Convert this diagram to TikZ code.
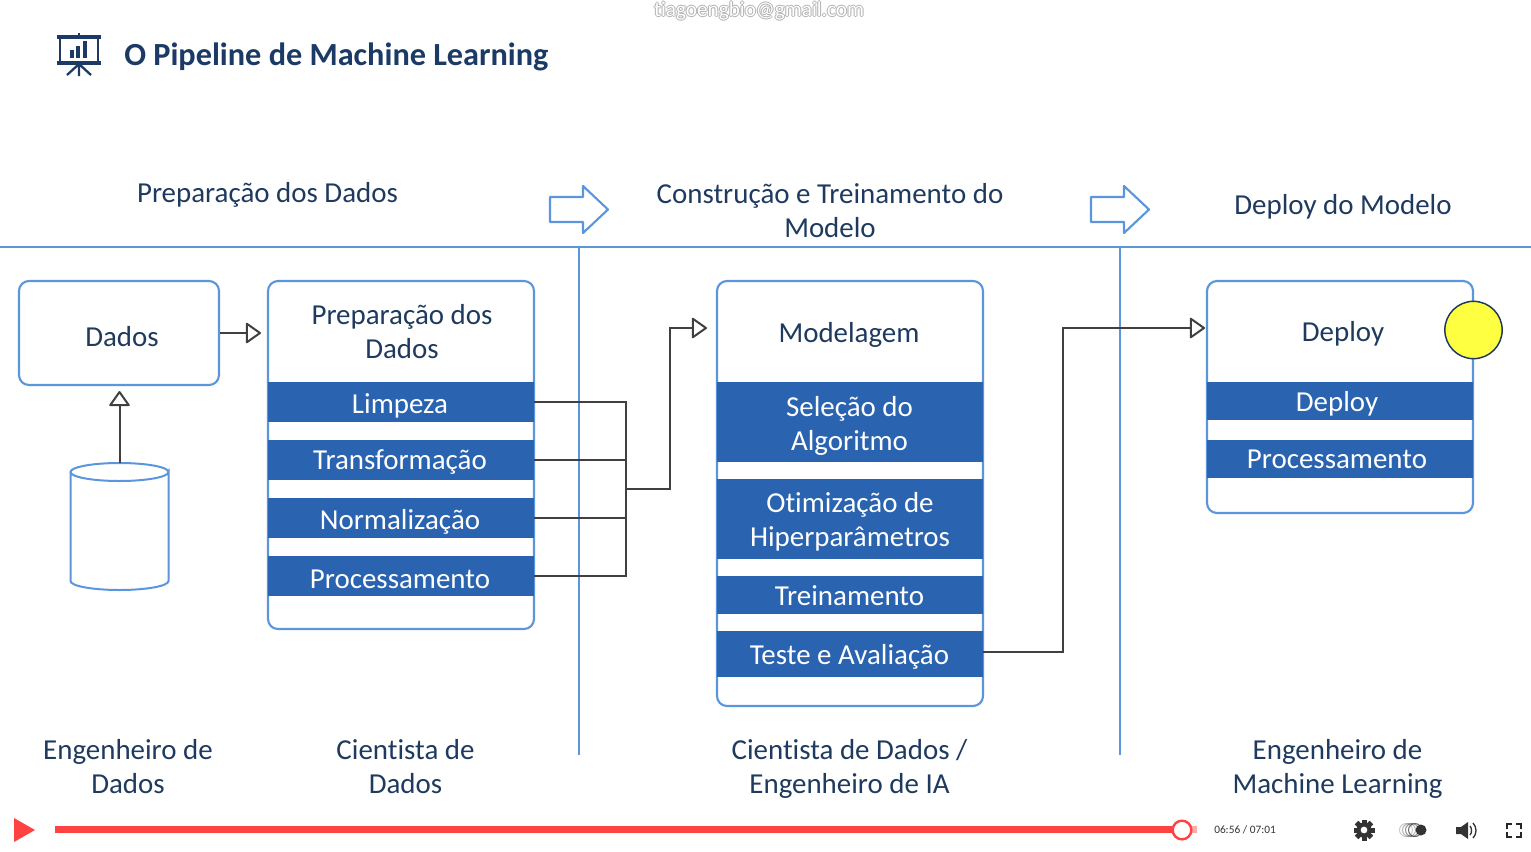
\documentclass[tikz,border=0pt]{standalone}
\usepackage{fontspec}
\setmainfont[Ligatures=NoCommon]{Carlito}
\usetikzlibrary{arrows.meta}
\definecolor{navy}{HTML}{1F3A5F}
\definecolor{title}{HTML}{1B3A66}
\definecolor{lineblue}{HTML}{5B96DC}
\definecolor{barblue}{HTML}{2A63B0}
\definecolor{conn}{HTML}{404040}
\definecolor{playred}{HTML}{FF4242}
\definecolor{ctrl}{HTML}{333333}
\definecolor{marker}{HTML}{FFFF41}
\newcommand{\blockarrow}[2]{%
  \draw[lineblue,line width=1.6pt,line join=round,shift={(#1,#2)},fill=white]
    (0,11)--(33,11)--(33,0)--(58,23.5)--(33,47)--(33,36)--(0,36)--cycle;}
\newcommand{\bodyfont}{\fontsize{21.7}{25.5}\selectfont}
\tikzset{
  sz/.style 2 args={minimum width=#1*0.75pt,minimum height=#2*0.75pt},
  panel/.style={draw=lineblue,line width=1.6pt,rounded corners=7.5pt,fill=white,inner sep=0pt},
  bar/.style={fill=barblue,draw=none,inner sep=0pt},
  bartxt/.style={text=white,align=center,inner sep=0pt,font=\bodyfont},
  txt/.style={text=navy,align=center,inner sep=0pt,font=\bodyfont},
  link/.style={draw=conn,line width=1.5pt},
  arrowlink/.style={link,-{Triangle[open,length=12pt,width=16.5pt,line width=1.5pt,round]}},
  rule/.style={draw=lineblue,line width=1.5pt},
}
\begin{document}
\begin{tikzpicture}[x=0.75pt,y=-0.75pt]
\useasboundingbox (0,0) rectangle (1531,851);
\fill[white] (0,0) rectangle (1531,851);
% watermark
\foreach \dx/\dy in {-1/0,1/0,0/-1,0/1}
  \node[text=black!30,inner sep=0pt,font=\fontsize{15.9}{18}\selectfont] at (759+\dx,11+\dy) {tiagoengbio@gmail.com};
\node (mark) [text=white,inner sep=0pt,font=\fontsize{15.9}{18}\selectfont] at (759,11) {tiagoengbio@gmail.com};
% icon
\begin{scope}[title]
\fill (57,34.5) rectangle (101,38.5);
\fill (57,60.5) rectangle (101,64.5);
\fill (78,32.5) rectangle (80,35);
\draw[line width=1.9pt] (60,37) -- (60,62) (98,37) -- (98,62);
\fill (70,50) rectangle (74,58);
\fill (76,46) rectangle (80,58);
\fill (83,41) rectangle (87,58);
\draw[line width=1.7pt] (79,63) -- (79,76) (79,64) -- (67,75) (79,64) -- (91,75);
\end{scope}
\node (head) [anchor=west,text=title,inner sep=0pt,font=\fontsize{24.2}{28}\selectfont\bfseries] at (124,57) {O Pipeline de Machine Learning};
% section heads
\node (h1) [txt] at (267.5,195) {Preparação dos Dados};
\node (h2) [txt] at (830,210.5) {Construção e Treinamento do\\Modelo};
\node (h3) [txt] at (1343,207) {Deploy do Modelo};
\blockarrow{550}{186}
\blockarrow{1091}{186}
% rules
\coordinate (ruleL) at (0,247);
\coordinate (ruleR) at (1531,247);
\coordinate (v1t) at (579,247);
\coordinate (v1b) at (579,755);
\coordinate (v2t) at (1120,247);
\coordinate (v2b) at (1120,755);
\draw[rule] (ruleL) -- (ruleR);
\draw[rule] (v1t) -- (v1b);
\draw[rule] (v2t) -- (v2b);
% panels
\node (dados) [panel,sz={200}{104}] at (119,333) {};
\node (prep) [panel,sz={266}{348}] at (401,455) {};
\node (model) [panel,sz={266}{425}] at (850,493.5) {};
\node (depl) [panel,sz={266}{232}] at (1340,397) {};
\node (dadost) [txt] at (122,337) {Dados};
\node (prept) [txt] at (402,332) {Preparação dos\\Dados};
\node (modelt) [txt] at (849,335) {Modelagem};
\node (deplt) [txt] at (1343,334) {Deploy};
% bars: preparation
\node (b1) [bar,sz={266}{40}] at (401,402) {};
\node (b2) [bar,sz={266}{40}] at (401,460) {};
\node (b3) [bar,sz={266}{40}] at (401,518) {};
\node (b4) [bar,sz={266}{40}] at (401,576) {};
\node (b1t) [bartxt] at (400,405.5) {Limpeza};
\node (b2t) [bartxt] at (400,462.5) {Transformação};
\node (b3t) [bartxt] at (400,522) {Normalização};
\node (b4t) [bartxt] at (400,579) {Processamento};
% bars: modelling
\node (m1) [bar,sz={266}{80}] at (850,422) {};
\node (m2) [bar,sz={266}{80}] at (850,519) {};
\node (m3) [bar,sz={266}{38}] at (850,595) {};
\node (m4) [bar,sz={266}{46}] at (850,654) {};
\node (m1t) [bartxt] at (849.5,425.5) {Seleção do\\Algoritmo};
\node (m2t) [bartxt] at (850,522) {Otimização de\\Hiperparâmetros};
\node (m3t) [bartxt] at (849.5,596) {Treinamento};
\node (m4t) [bartxt] at (849.5,656.5) {Teste e Avaliação};
% bars: deploy
\node (d1) [bar,sz={266}{38}] at (1340,401) {};
\node (d2) [bar,sz={266}{38}] at (1340,459) {};
\node (d1t) [bartxt] at (1337,403.5) {Deploy};
\node (d2t) [bartxt] at (1337,459) {Processamento};
% yellow marker
\node (dot) [circle,draw=navy,line width=1.1pt,fill=marker,minimum size=43pt,inner sep=0pt] at (1473.5,330) {};
% cylinder
\draw[lineblue,line width=1.5pt,fill=white] (70.5,472) -- (70.5,581)
  arc[start angle=180,end angle=0,x radius=49,y radius=9] -- (168.5,472)
  arc[start angle=0,end angle=180,x radius=49,y radius=9]
  arc[start angle=180,end angle=360,x radius=49,y radius=9];
\coordinate (dbtop) at (119.5,463);
% connectors
\coordinate (bus) at (626,488.5);
\coordinate (modelin) at (707,328);
\coordinate (deplin) at (1205,328);
\coordinate (prepin) at (261,333);
\coordinate (dadosin) at (119.5,391);
\coordinate (riser) at (1063,652);
\coordinate (busout) at (670,488.5);
\draw[arrowlink] (dados.east |- prepin) -- (prepin);
\draw[arrowlink] (dbtop) -- (dadosin);
\draw[link] (b1.east) -| (bus);
\draw[link] (b2.east) -| (bus);
\draw[link] (b3.east) -| (bus);
\draw[link] (b4.east) -| (bus);
\draw[arrowlink] (bus) -- (busout) |- (modelin);
\draw[arrowlink] (m4.east |- riser) -- (riser) |- (deplin);
% footer labels
\node (f1) [txt] at (128,766.5) {Engenheiro de\\Dados};
\node (f2) [txt] at (405.5,766.5) {Cientista de\\Dados};
\node (f3) [txt] at (849.5,768.5) {Cientista de Dados /\\Engenheiro de IA};
\node (f4) [txt] at (1337.5,768.5) {Engenheiro de\\Machine Learning};
% player controls
\fill[playred] (14,818) -- (35,830) -- (14,842) -- cycle;
\fill[playred!45] (1182,826) rectangle (1197,833);
\fill[playred] (55,826) rectangle (1182,833);
\node (knob) [circle,draw=playred,line width=1.8pt,fill=white,minimum size=14pt,inner sep=0pt] at (1182,830) {};
\node (time) [text=ctrl,inner sep=0pt,font=\fontsize{8.5}{10}\selectfont] at (1245,830) {06:56 / 07:01};
% gear
\foreach \a in {0,45,...,315}
  \fill[ctrl,rotate around={\a:(1364,830)}] (1361.5,819.5) rectangle (1366.5,825);
\fill[ctrl,even odd rule] (1364,830) circle[radius=7.5] (1364,830) circle[radius=3.5];
% speed
\foreach \x/\o in {1406/0.25,1409/0.35,1412/0.5,1415/0.7}
  \draw[ctrl,opacity=\o,line width=0.8pt] (\x,830) circle[radius=6.5];
\fill[ctrl] (1421,830) circle[radius=5.5];
% volume
\fill[ctrl] (1456,827) -- (1461,827) -- (1468,822) -- (1468,839) -- (1461,834) -- (1456,834) -- cycle;
\draw[ctrl,line width=1pt] (1470,826) .. controls (1472,828) and (1472,833) .. (1470,835);
\draw[ctrl,line width=1pt] (1473,823) .. controls (1477,827) and (1477,834) .. (1473,838);
% fullscreen
\draw[black!85,line width=1.9pt] (1507,829) -- (1507,824) -- (1512,824)
  (1516,824) -- (1521,824) -- (1521,829)
  (1521,832) -- (1521,837) -- (1516,837)
  (1512,837) -- (1507,837) -- (1507,832);
\end{tikzpicture}
\end{document}
